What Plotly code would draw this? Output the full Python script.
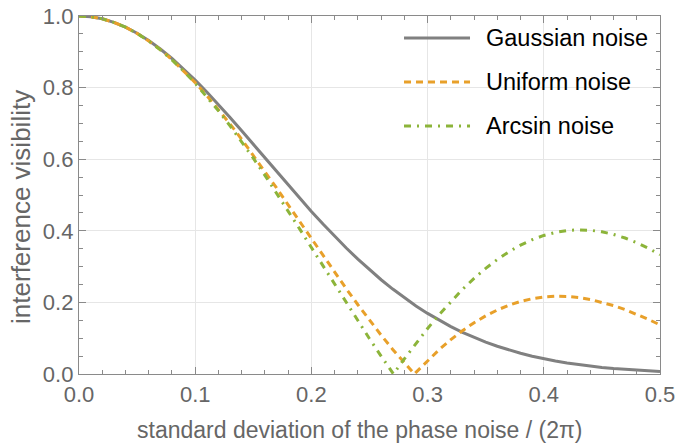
import plotly.graph_objects as go

# x positions (standard deviation / 2pi)
x_vals = [round(0.01 * i, 2) for i in range(51)]

gaussian = [1.0, 0.9980, 0.9921, 0.9824, 0.9689, 0.9519, 0.9314, 0.9078, 0.8813, 0.8522,
            0.8209, 0.7875, 0.7526, 0.7164, 0.6792, 0.6414, 0.6033, 0.5653, 0.5275, 0.4904,
            0.4540, 0.4188, 0.3847, 0.3520, 0.3208, 0.2912, 0.2633, 0.2372, 0.2128, 0.1901,
            0.1692, 0.1500, 0.1325, 0.1165, 0.1021, 0.0891, 0.0775, 0.0671, 0.0578, 0.0497,
            0.0425, 0.0362, 0.0308, 0.0260, 0.0219, 0.0184, 0.0154, 0.0128, 0.0106, 0.0088,
            0.0072]

uniform_x = x_vals[:29] + [0.2887] + x_vals[29:]
uniform = [1.0, 0.9980, 0.9921, 0.9823, 0.9687, 0.9514, 0.9304, 0.9061, 0.8784, 0.8476,
           0.8140, 0.7777, 0.7390, 0.6983, 0.6556, 0.6114, 0.5660, 0.5196, 0.4725, 0.4251,
           0.3777, 0.3305, 0.2839, 0.2381, 0.1935, 0.1502, 0.1085, 0.0687, 0.0309, 0.0,
           0.0046, 0.0377, 0.0682, 0.0960, 0.1211, 0.1432, 0.1625, 0.1788, 0.1922, 0.2027,
           0.2103, 0.2151, 0.2171, 0.2166, 0.2136, 0.2082, 0.2007, 0.1912, 0.1799, 0.1670,
           0.1526, 0.1371]

arcsin_x = x_vals[:28] + [0.2706] + x_vals[28:]
arcsin = [1.0, 0.9980, 0.9921, 0.9823, 0.9687, 0.9513, 0.9302, 0.9056, 0.8776, 0.8464,
          0.8121, 0.7751, 0.7353, 0.6932, 0.6490, 0.6028, 0.5550, 0.5059, 0.4557, 0.4047,
          0.3533, 0.3016, 0.2500, 0.1987, 0.1482, 0.0985, 0.0500, 0.0029, 0.0,
          0.0424, 0.0858, 0.1271, 0.1661, 0.2025, 0.2363, 0.2671, 0.2951, 0.3199, 0.3416,
          0.3600, 0.3751, 0.3870, 0.3955, 0.4008, 0.4027, 0.4015, 0.3972, 0.3899, 0.3798,
          0.3668, 0.3513, 0.3333]

series_names = ["Gaussian noise", "Uniform noise", "Arcsin noise"]
x_title = "standard deviation of the phase noise / (2π)"
y_title = "interference visibility"

FONT = "Liberation Sans, Arial, sans-serif"
GRAY_TXT = "#666666"
FRAME = "#8a8a8a"
colors = ["#808080", "#E8A02A", "#8CB43A"]
dashes = ["solid", "7px,5px", "7px,6px,2px,6px"]

fig = go.Figure()
for xs, ys, nm, c, d in zip([x_vals, uniform_x, arcsin_x], [gaussian, uniform, arcsin],
                            series_names, colors, dashes):
    fig.add_trace(go.Scatter(x=xs, y=ys, mode="lines", name=nm, showlegend=False,
                             line=dict(color=c, width=3, dash=d)))

axis_common = dict(
    showline=True, linecolor=FRAME, linewidth=1.3, mirror="ticks",
    ticks="inside", tickcolor=FRAME, ticklen=7, tickwidth=1,
    showgrid=True, gridcolor="#e6e6e6", gridwidth=1, zeroline=False,
    tickfont=dict(family=FONT, size=22, color=GRAY_TXT), automargin=False,
)

fig.update_xaxes(range=[0, 0.5], dtick=0.1, tickformat=".1f",
                 minor=dict(dtick=0.02, ticks="inside", ticklen=4, tickcolor=FRAME, showgrid=False),
                 **axis_common)
fig.update_yaxes(range=[0, 1], dtick=0.2, tickformat=".1f",
                 minor=dict(dtick=0.05, ticks="inside", ticklen=4, tickcolor=FRAME, showgrid=False),
                 **axis_common)

annotations = [
    dict(text=x_title, xref="paper", yref="paper", x=0.4836, y=-0.156, showarrow=False,
         xanchor="center", yanchor="middle", font=dict(family=FONT, size=23, color=GRAY_TXT)),
    dict(text=y_title, xref="paper", yref="paper", x=-0.099, y=0.468, showarrow=False,
         textangle=-90, xanchor="center", yanchor="middle",
         font=dict(family=FONT, size=26, color=GRAY_TXT)),
]
shapes = []
leg_y = [0.9385, 0.8156, 0.6927]
for nm, c, d, yy in zip(series_names, colors, dashes, leg_y):
    shapes.append(dict(type="line", xref="paper", yref="paper", x0=0.5594, x1=0.6730,
                       y0=yy, y1=yy, line=dict(color=c, width=3, dash=d)))
    annotations.append(dict(text=nm, xref="paper", yref="paper", x=0.6971, y=yy,
                            showarrow=False, xanchor="left", yanchor="middle",
                            font=dict(family=FONT, size=23.5, color="black")))

fig.update_layout(
    width=678, height=445,
    margin=dict(l=79, r=18, t=16, b=71),
    plot_bgcolor="white", paper_bgcolor="white",
    showlegend=False,
    annotations=annotations, shapes=shapes,
)

# remove the browser's default 8px body margin so the figure fills the window exactly
fig.write_html("out.html", config={"displayModeBar": False},
               post_script="document.body.style.margin='0px';document.body.style.overflow='hidden';")
